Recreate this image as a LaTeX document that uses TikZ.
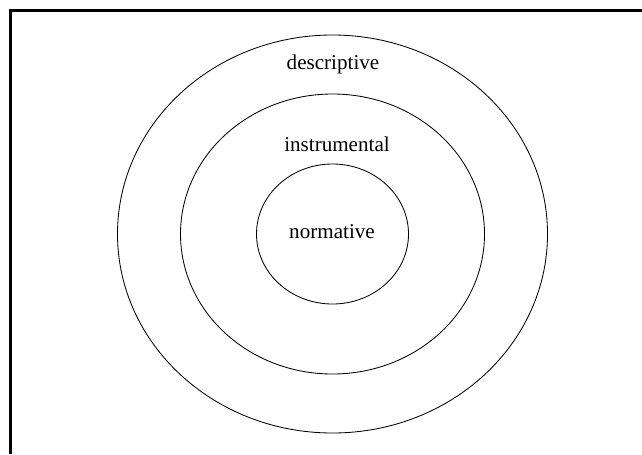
\documentclass[tikz,border=0pt]{standalone}
\usepackage{fontspec}
\setmainfont{Liberation Serif}
\usepackage{tikz}
\tikzset{
  ring/.style={draw=black, line width=0.6pt},
  frameline/.style={line width=1.5pt, draw=black, line cap=butt},
  ringlabel/.style={font=\fontsize{15}{18}\selectfont, inner sep=0pt, anchor=base},
}

\begin{document}
\begin{tikzpicture}[x=0.025cm, y=-0.025cm]
\useasboundingbox (0,0) rectangle (642,454);
\draw[frameline] (10.5,454) -- (10.5,10.5) -- (642,10.5);
\draw[ring] (332.5,234) ellipse (215 and 199);
\draw[ring] (332.5,234) ellipse (152 and 140);
\draw[ring] (332.5,234) ellipse (76 and 70);
\node[ringlabel] (descriptive) at (333,69) {descriptive};
\node[ringlabel] (instrumental) at (337,151) {instrumental};
\node[ringlabel] (normative) at (332,238) {normative};
\end{tikzpicture}
\end{document}
